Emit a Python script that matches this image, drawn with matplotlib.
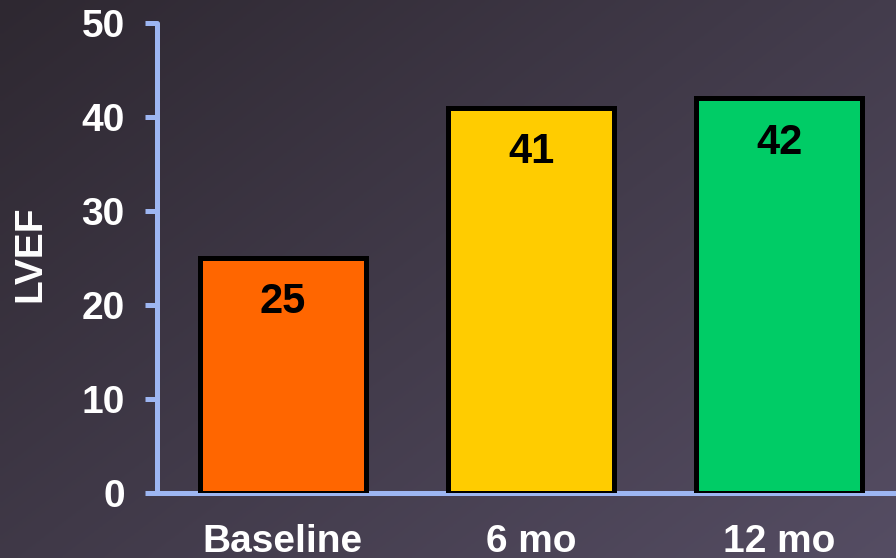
import numpy as np
import matplotlib
matplotlib.use('Agg')
import matplotlib.pyplot as plt

# data
categories = ['Baseline', '6 mo', '12 mo']
lvef = [25, 41, 42]
bar_colors = ['#ff6600', '#ffcc00', '#00cc66']
y_ticks = [0, 10, 20, 30, 40, 50]

AXIS_C = '#9db6f2'
WHITE = '#ffffff'

plt.rcParams['font.family'] = ['Liberation Sans', 'DejaVu Sans']

fig = plt.figure(figsize=(8.96, 5.58), dpi=100)

# background: dark purple-grey wash, darker at top-left
bg = fig.add_axes([0, 0, 1, 1], zorder=0)
gx, gy = np.meshgrid(np.linspace(0, 1, 200), np.linspace(0, 1, 200))
shade = 0.55 * gx + 0.45 * gy
c0 = np.array([0x2e, 0x28, 0x31]) / 255
c1 = np.array([0x55, 0x4d, 0x63]) / 255
img = c0[None, None, :] + shade[..., None] * (c1 - c0)[None, None, :]
bg.imshow(img, aspect='auto', extent=[0, 1, 0, 1], origin='upper')
bg.axis('off')

ax = fig.add_axes([0.175, 0.1165, 0.825, 0.8423], zorder=1)
ax.patch.set_alpha(0)

x = np.arange(len(categories))
ax.bar(x, lvef, width=0.67, color=bar_colors, edgecolor='black',
       linewidth=3.6, zorder=3)

for xi, v in zip(x, lvef):
    ax.annotate(f'{v}', (xi, v), textcoords='offset points', xytext=(0, -32),
                ha='center', va='center', fontsize=30, fontweight='bold',
                color='black', zorder=4)

ax.set_xlim(-0.508, 2.47)
ax.set_ylim(0, 50)
ax.set_yticks(y_ticks)
ax.set_xticks(x)
ax.set_xticklabels(categories)

for s in ['top', 'right']:
    ax.spines[s].set_visible(False)
for s in ['left', 'bottom']:
    ax.spines[s].set_color(AXIS_C)
    ax.spines[s].set_linewidth(3.6)
    ax.spines[s].set_capstyle('round')

ax.tick_params(axis='y', colors=AXIS_C, length=9, width=3.6, pad=14,
               labelsize=28, labelcolor=WHITE)
ax.tick_params(axis='x', length=0, pad=22, labelsize=28, labelcolor=WHITE)
for lab in ax.get_xticklabels() + ax.get_yticklabels():
    lab.set_fontweight('bold')

ax.set_ylabel('LVEF', color=WHITE, fontsize=28, fontweight='bold')
ax.yaxis.set_label_coords(-0.147, 0.51)

fig.savefig('out.png', dpi=100)
